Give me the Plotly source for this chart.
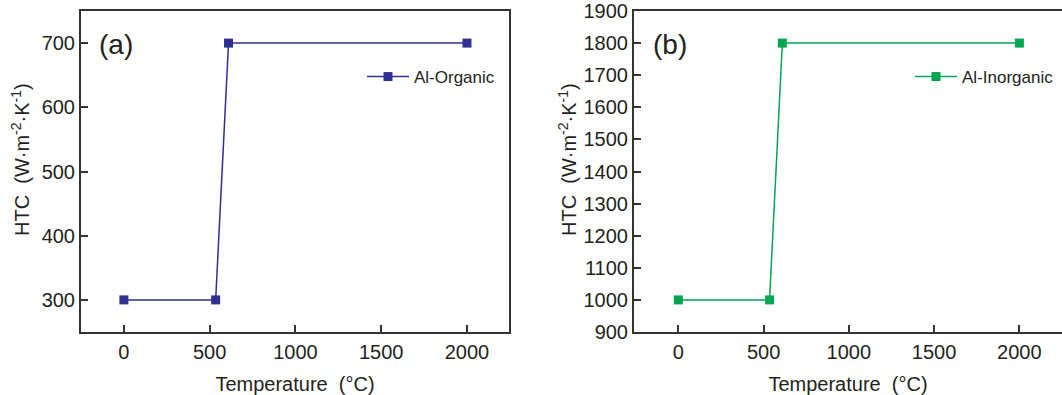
import plotly.graph_objects as go

# Data
temp_a = [0, 535, 610, 2000]
htc_a = [300, 300, 700, 700]
temp_b = [0, 535, 610, 2000]
htc_b = [1000, 1000, 1800, 1800]
name_a = "Al-Organic"
name_b = "Al-Inorganic"
ticks_x = [0, 500, 1000, 1500, 2000]
ticks_ya = [300, 400, 500, 600, 700]
ticks_yb = [900, 1000, 1100, 1200, 1300, 1400, 1500, 1600, 1700, 1800, 1900]

W, H = 1062, 395
FONT = "Liberation Sans, Arial, sans-serif"
TXT = "#231f20"
AX = "#333333"
BLUE = "#2e3192"
GREEN = "#00a651"

fig = go.Figure()
fig.add_trace(go.Scatter(x=temp_a, y=htc_a, name=name_a, mode="lines+markers",
                         line=dict(color=BLUE, width=1.5),
                         marker=dict(symbol="square", size=9, color=BLUE),
                         xaxis="x", yaxis="y", legend="legend"))
fig.add_trace(go.Scatter(x=temp_b, y=htc_b, name=name_b, mode="lines+markers",
                         line=dict(color=GREEN, width=1.5),
                         marker=dict(symbol="square", size=9, color=GREEN),
                         xaxis="x2", yaxis="y2", legend="legend2"))

ydom = [1 - 332 / H, 1 - 11 / H]
ytitle = "HTC  (W·m<sup>-2</sup>·K<sup>-1</sup>)"
common_x = dict(showgrid=False, zeroline=False, showline=True, linecolor=AX, linewidth=2,
                automargin=False,
                ticks="inside", ticklen=7, tickwidth=1.5, tickcolor=AX, ticklabelstandoff=1,
                tickvals=ticks_x, tickfont=dict(family=FONT, size=20, color=TXT),
                title=dict(text="Temperature  (°C)", font=dict(family=FONT, size=20, color=TXT), standoff=15))
common_y = dict(showgrid=False, zeroline=False, showline=True, linecolor=AX, linewidth=2,
                automargin=False,
                ticks="inside", ticklen=7, tickwidth=1.5, tickcolor=AX,
                tickfont=dict(family=FONT, size=20, color=TXT))

fig.update_layout(
    width=W, height=H,
    margin=dict(l=0, r=0, t=0, b=0, pad=0, autoexpand=False),
    paper_bgcolor="white", plot_bgcolor="white",
    xaxis=dict(domain=[81 / W, 509 / W], range=[-250, 2245], anchor="y", mirror=True, **common_x),
    yaxis=dict(domain=ydom, range=[250, 750], anchor="x", mirror=True, tickvals=ticks_ya, **common_y),
    xaxis2=dict(domain=[634 / W, 1.0], range=[-260, 2250], anchor="y2", mirror=True, **common_x),
    yaxis2=dict(domain=ydom, range=[900, 1900], anchor="x2", mirror=False, tickvals=ticks_yb, **common_y),
    legend=dict(x=362 / W, y=1 - 77 / H, xanchor="left", yanchor="middle", itemwidth=42,
                bgcolor="rgba(0,0,0,0)", font=dict(family=FONT, size=17, color=TXT)),
    legend2=dict(x=910 / W, y=1 - 77 / H, xanchor="left", yanchor="middle", itemwidth=42,
                 bgcolor="rgba(0,0,0,0)", font=dict(family=FONT, size=17, color=TXT)),
    showlegend=True,
)

# y-axis titles (rotated text)
for xc in (21, 568):
    fig.add_annotation(text=ytitle, x=xc / W, y=1 - 160 / H, xref="paper", yref="paper",
                       xanchor="center", yanchor="middle", textangle=-90, showarrow=False,
                       font=dict(family=FONT, size=20, color=TXT))

fig.add_annotation(text="(a)", x=97 / W, y=1 - 44 / H, xref="paper", yref="paper",
                   xanchor="left", yanchor="middle", showarrow=False,
                   font=dict(family=FONT, size=28, color=TXT))
fig.add_annotation(text="(b)", x=651 / W, y=1 - 44 / H, xref="paper", yref="paper",
                   xanchor="left", yanchor="middle", showarrow=False,
                   font=dict(family=FONT, size=28, color=TXT))

fig.write_html("out.html")
